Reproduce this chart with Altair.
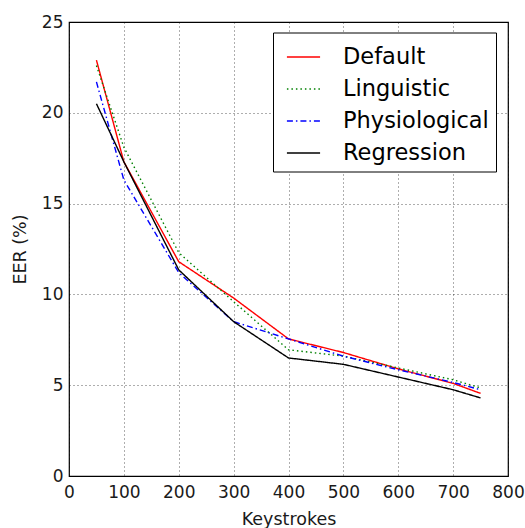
import altair as alt
import pandas as pd

keystrokes = [50, 100, 200, 300, 400, 500, 600, 700, 750]
default = [22.9, 17.3, 11.8, 9.8, 7.55, 6.8, 5.9, 5.1, 4.55]
linguistic = [22.6, 18.1, 12.3, 9.6, 6.95, 6.6, 5.95, 5.3, 4.85]
physiological = [21.7, 16.3, 11.2, 8.5, 7.55, 6.6, 5.85, 5.15, 4.75]
regression = [20.5, 17.3, 11.35, 8.5, 6.5, 6.15, 5.45, 4.75, 4.3]

series_names = ["Default", "Linguistic", "Physiological", "Regression"]
series_values = [default, linguistic, physiological, regression]
series_colors = ["#ff0000", "#008000", "#0000ff", "#000000"]
series_dashes = [[1, 0], [1.5, 3], [6, 3, 1.5, 3], [1, 0]]

rows = []
for name, vals in zip(series_names, series_values):
    for k, v in zip(keystrokes, vals):
        rows.append({"Keystrokes": k, "EER": v, "Series": name})
df = pd.DataFrame(rows)

FONT = "DejaVu Sans"

chart = alt.Chart(df).mark_line(strokeWidth=1.4).encode(
    x=alt.X("Keystrokes:Q", title="Keystrokes",
            scale=alt.Scale(domain=[0, 800], nice=False),
            axis=alt.Axis(values=[0, 100, 200, 300, 400, 500, 600, 700, 800])),
    y=alt.Y("EER:Q", title="EER (%)",
            scale=alt.Scale(domain=[0, 25], nice=False),
            axis=alt.Axis(values=[0, 5, 10, 15, 20, 25])),
    color=alt.Color("Series:N",
                    scale=alt.Scale(domain=series_names, range=series_colors),
                    legend=alt.Legend(title=None, orient="none", legendX=204, legendY=10.5,
                                      symbolType="stroke", symbolSize=1100,
                                      symbolStrokeWidth=1.5, symbolOffset=6,
                                      labelFontSize=22.5, labelFont=FONT, labelColor="#000000",
                                      rowPadding=3, padding=7, labelOffset=22,
                                      strokeColor="#000000", fillColor="#ffffff",
                                      cornerRadius=0, labelLimit=300)),
    strokeDash=alt.StrokeDash("Series:N",
                              scale=alt.Scale(domain=series_names, range=series_dashes),
                              legend=None),
    order=alt.Order("Keystrokes:Q"),
).properties(
    width=439, height=454,
    autosize="none",
    padding={"left": 69, "top": 22, "right": 17, "bottom": 52},
).configure_view(
    stroke="#000000", strokeWidth=1.2
).configure_axis(
    grid=True, gridColor="#000000", gridDash=[1, 3], gridOpacity=0.8, gridWidth=0.8,
    domain=False, ticks=False, labelFlush=False,
    labelFont=FONT, labelFontSize=17, labelColor="#1a1a1a",
    titleFont=FONT, titleFontSize=17.5, titleFontWeight="normal", titleColor="#1a1a1a",
).configure_axisX(
    labelPadding=8, titlePadding=10
).configure_axisY(
    labelPadding=6, titlePadding=12
)

chart.save("out.html", embed_options={"renderer": "svg", "actions": False})
